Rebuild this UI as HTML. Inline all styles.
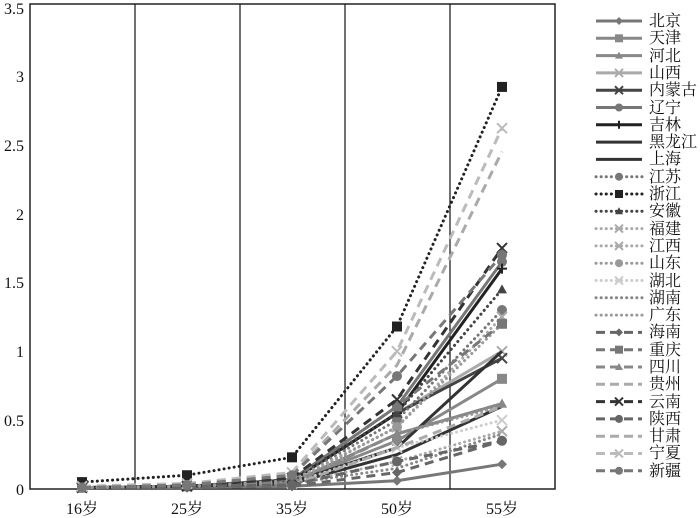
<!DOCTYPE html><html><head><meta charset="utf-8"><style>body{margin:0;background:#fff}svg{display:block}text{font-family:"Liberation Serif","Noto Serif CJK SC",serif;fill:#111}</style></head><body>
<svg id="s" width="700" height="518" xmlns="http://www.w3.org/2000/svg">
<rect x="30" y="4" width="525" height="485" fill="#fff" stroke="#222" stroke-width="1.5"/>
<g stroke="#111" stroke-width="1.2"><line x1="135" y1="4" x2="135" y2="489"/><line x1="240" y1="4" x2="240" y2="489"/><line x1="345" y1="4" x2="345" y2="489"/><line x1="450" y1="4" x2="450" y2="489"/></g>
<g font-size="16" text-anchor="end"><text x="24" y="495">0</text><text x="24" y="426">0.5</text><text x="24" y="357">1</text><text x="24" y="288">1.5</text><text x="24" y="220">2</text><text x="24" y="151">2.5</text><text x="24" y="82">3</text><text x="24" y="14">3.5</text></g>
<g font-size="16" text-anchor="middle"><text x="82" y="514">16岁</text><text x="187" y="514">25岁</text><text x="292" y="514">35岁</text><text x="397" y="514">50岁</text><text x="502" y="514">55岁</text></g>
<g id="series"></g>
<g id="leg"></g>
<g font-size="16">
<text x="649" y="26">北京</text><text x="649" y="43">天津</text><text x="649" y="61">河北</text><text x="649" y="78">山西</text><text x="649" y="95">内蒙古</text><text x="649" y="113">辽宁</text><text x="649" y="130">吉林</text><text x="649" y="147">黑龙江</text><text x="649" y="164">上海</text><text x="649" y="182">江苏</text><text x="649" y="199">浙江</text><text x="649" y="216">安徽</text><text x="649" y="234">福建</text><text x="649" y="251">江西</text><text x="649" y="268">山东</text><text x="649" y="286">湖北</text><text x="649" y="303">湖南</text><text x="649" y="320">广东</text><text x="649" y="337">海南</text><text x="649" y="355">重庆</text><text x="649" y="372">四川</text><text x="649" y="389">贵州</text><text x="649" y="407">云南</text><text x="649" y="424">陕西</text><text x="649" y="441">甘肃</text><text x="649" y="458">宁夏</text><text x="649" y="476">新疆</text>
</g>
</svg>
<script>
var X=[82,187,292,397,502];function Y(v){return 489-v*137.7;}
var S=[
["#777","","d",[0.01,0.01,0.02,0.06,0.18]],
["#888","","s",[0.01,0.02,0.05,0.35,0.8]],
["#888","","t",[0.01,0.02,0.05,0.4,0.62]],
["#aaa","","x",[0.01,0.02,0.06,0.55,1.0]],
["#444","","x",[0.01,0.02,0.06,0.55,0.95]],
["#777","","c",[0.01,0.02,0.07,0.6,1.65]],
["#222","","p",[0.01,0.02,0.06,0.55,1.6]],
["#333","","",[0.01,0.02,0.05,0.3,1.0]],
["#333","","",[0.01,0.02,0.04,0.25,0.6]],
["#777","2 4","c",[0.01,0.02,0.06,0.5,1.3]],
["#222","2 4","s",[0.05,0.1,0.23,1.18,2.92]],
["#444","2 4","t",[0.01,0.02,0.07,0.55,1.45]],
["#aaa","2 4","x",[0.01,0.02,0.06,0.45,1.25]],
["#aaa","2 4","x",[0.01,0.02,0.04,0.2,0.42]],
["#999","2 4","c",[0.01,0.02,0.05,0.45,1.2]],
["#ccc","2 4","x",[0.01,0.02,0.04,0.3,0.5]],
["#888","2 4","",[0.01,0.02,0.04,0.15,0.4]],
["#999","2 4","",[0.01,0.02,0.05,0.4,0.6]],
["#666","9 6","d",[0.01,0.01,0.02,0.12,0.35]],
["#777","9 6","s",[0.01,0.02,0.07,0.6,1.2]],
["#888","9 6","t",[0.01,0.02,0.04,0.4,0.62]],
["#aaa","9 6","",[0.01,0.02,0.03,0.3,0.6]],
["#333","9 6","x",[0.01,0.02,0.08,0.65,1.75]],
["#666","9 6","c",[0.01,0.02,0.03,0.2,0.35]],
["#aaa","9 6","",[0.01,0.03,0.1,0.9,2.45]],
["#bbb","9 6","x",[0.02,0.04,0.12,1.0,2.62]],
["#777","9 6","c",[0.01,0.03,0.1,0.82,1.7]]];
var ns="http://www.w3.org/2000/svg";
function el(t,a,p){var e=document.createElementNS(ns,t);for(var k in a)e.setAttribute(k,a[k]);p.appendChild(e);return e;}
function mk(m,x,y,c,p,r){r=r||5;if(m=="d")el("polygon",{points:(x)+","+(y-r)+" "+(x+r)+","+y+" "+x+","+(y+r)+" "+(x-r)+","+y,fill:c},p);
else if(m=="s")el("rect",{x:x-r,y:y-r,width:2*r,height:2*r,fill:c},p);
else if(m=="t")el("polygon",{points:x+","+(y-r)+" "+(x+r)+","+(y+r-1)+" "+(x-r)+","+(y+r-1),fill:c},p);
else if(m=="c")el("circle",{cx:x,cy:y,r:r,fill:c},p);
else if(m=="x"){el("path",{d:"M"+(x-r)+" "+(y-r)+"L"+(x+r)+" "+(y+r)+"M"+(x+r)+" "+(y-r)+"L"+(x-r)+" "+(y+r),stroke:c,"stroke-width":2},p);}
else if(m=="p"){el("path",{d:"M"+(x-r)+" "+y+"L"+(x+r)+" "+y+"M"+x+" "+(y-r)+"L"+x+" "+(y+r),stroke:c,"stroke-width":2},p);}}
var g=document.getElementById("series"),L=document.getElementById("leg");
S.forEach(function(s,i){var pts=s[3].map(function(v,j){return X[j]+","+Y(v).toFixed(1)}).join(" ");
var a={points:pts,fill:"none",stroke:s[0],"stroke-width":3};if(s[1])a["stroke-dasharray"]=s[1];a["stroke-linecap"]=s[1]=="2 4"?"round":"butt";if(s[1]=="2 4")a["stroke-dasharray"]="0.1 5";
el("polyline",a,g);s[3].forEach(function(v,j){mk(s[2],X[j],Y(v),s[0],g)});
var y=21+i*17.3;var b={x1:596,x2:642,y1:y,y2:y,stroke:s[0],"stroke-width":3};if(s[1]=="2 4"){b["stroke-dasharray"]="0.1 5";b["stroke-linecap"]="round";}else if(s[1])b["stroke-dasharray"]="9 5";
el("line",b,L);mk(s[2],619,y,s[0],L,4);});
</script>
</body></html>
